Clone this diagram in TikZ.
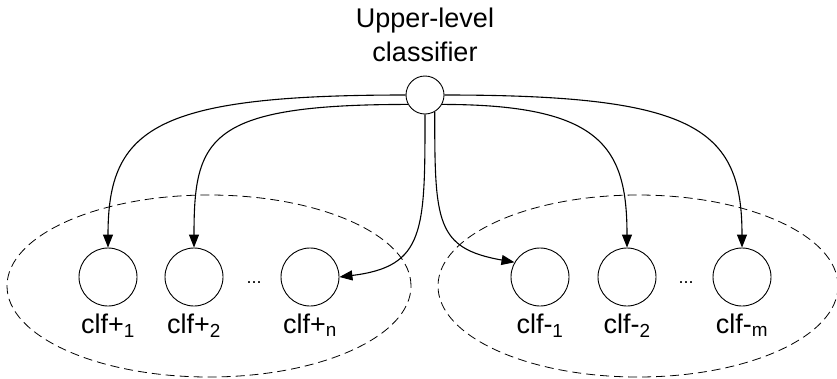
\documentclass[tikz,border=0pt]{standalone}
\usepackage{fontspec}
\setmainfont{Liberation Sans}
\usetikzlibrary{arrows.meta}
\begin{document}
\begin{tikzpicture}[x=1pt,y=1pt,
  clf/.style={draw, circle, line width=0.9pt, minimum size=58pt, inner sep=0pt},
  root/.style={draw, circle, line width=0.9pt, minimum size=38pt, inner sep=0pt},
  lbl/.style={anchor=base, inner sep=0pt, font=\fontsize{27}{32}\selectfont},
  dots/.style={anchor=base, inner sep=0pt, font=\fontsize{18}{20}\selectfont},
  group/.style={draw, dashed, dash pattern=on 9pt off 5pt, line width=0.8pt},
  link/.style={line width=1.1pt, -{Triangle[length=13pt,width=10pt]}}]
\useasboundingbox (0,0) rectangle (837,-378);

% dashed groups
\draw[group] (209,-286) ellipse [x radius=202, y radius=91];
\draw[group] (638,-286) ellipse [x radius=200, y radius=91];

% upper-level classifier
\node[root] (top) at (425,-95) {};
\node[lbl] (title1) at (425,-27) {Upper-level};
\node[lbl] (title2) at (425,-61) {classifier};

% positive classifiers
\node[clf] (p1) at (108,-277) {};
\node[clf] (p2) at (194,-277) {};
\node[clf] (pn) at (310,-277) {};
\node[dots] (pdots) at (254,-283) {...};
\node[lbl] (p1l) at (108,-333) {clf+\textsubscript{1}};
\node[lbl] (p2l) at (194,-333) {clf+\textsubscript{2}};
\node[lbl] (pnl) at (310,-333) {clf+\textsubscript{n}};

% negative classifiers
\node[clf] (m1) at (540,-277) {};
\node[clf] (m2) at (627,-277) {};
\node[clf] (mm) at (742,-277) {};
\node[dots] (mdots) at (686,-283) {...};
\node[lbl] (m1l) at (540,-333) {clf-\textsubscript{1}};
\node[lbl] (m2l) at (627,-333) {clf-\textsubscript{2}};
\node[lbl] (mml) at (742,-333) {clf-\textsubscript{m}};

% connectors
\draw[link] (top.west) to[out=180, in=90, out distance=250pt, in distance=120pt] (p1.north);
\draw[link] (top.209) to[out=180, in=90, out distance=200pt, in distance=110pt] (p2.north);
\draw[link] (top.south) to[out=-90, in=7, out distance=117pt, in distance=86pt] (pn.east);
\draw[link] (top.300) to[out=-90, in=170, out distance=110pt, in distance=80pt] (m1.150);
\draw[link] (top.331) to[out=0, in=90, out distance=160pt, in distance=100pt] (m2.north);
\draw[link] (top.east) to[out=0, in=90, out distance=250pt, in distance=120pt] (mm.north);
\end{tikzpicture}
\end{document}
